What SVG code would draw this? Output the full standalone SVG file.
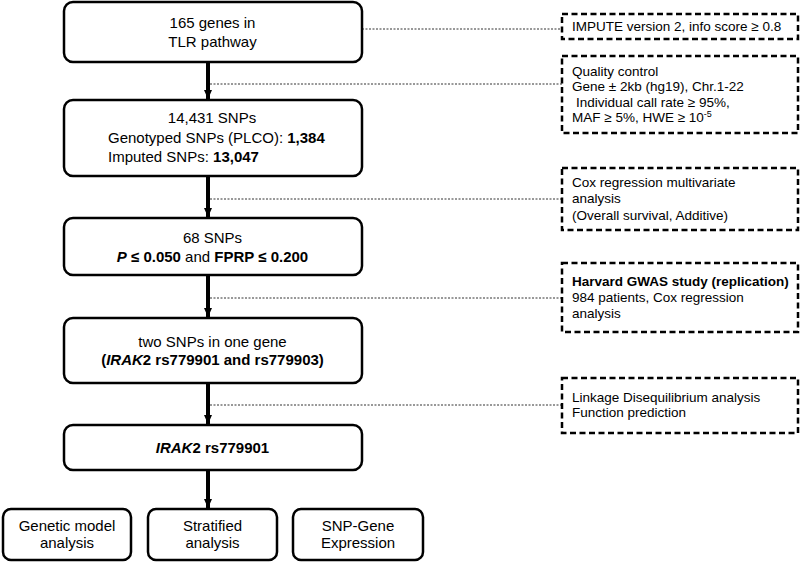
<svg xmlns="http://www.w3.org/2000/svg" width="800" height="562" viewBox="0 0 800 562">
<defs>
<marker id="ah" markerUnits="userSpaceOnUse" markerWidth="10" markerHeight="8" refX="9" refY="4" orient="auto">
<path d="M0,0 L9,4 L0,8 z" fill="#000"/>
</marker>
<style>
.box{fill:#fff;stroke:#000;stroke-width:2.5}
.note{fill:#fff;stroke:#000;stroke-width:2.5;stroke-dasharray:6 3.5}
.t{font-family:"Liberation Sans",Arial,sans-serif;font-size:15px;fill:#000}
.n{font-family:"Liberation Sans",Arial,sans-serif;font-size:13.5px;fill:#000}
.c{text-anchor:middle}
.b{font-weight:bold}
.i{font-style:italic}
.arrow{stroke:#000;stroke-width:4;fill:none}
.dot{stroke:#333;stroke-width:1;stroke-dasharray:2 1.5;fill:none}
</style>
</defs>
<rect width="800" height="562" fill="#fff"/>
<g id="connectors">
<line class="arrow" x1="208" y1="62" x2="208" y2="99" marker-end="url(#ah)"/>
<line class="arrow" x1="208" y1="176" x2="208" y2="217" marker-end="url(#ah)"/>
<line class="arrow" x1="208" y1="275" x2="208" y2="317" marker-end="url(#ah)"/>
<line class="arrow" x1="208" y1="383" x2="208" y2="424" marker-end="url(#ah)"/>
<line class="arrow" x1="208" y1="470" x2="208" y2="508" marker-end="url(#ah)"/>
<line class="dot" x1="362" y1="29" x2="562" y2="29"/>
<line class="dot" x1="210" y1="84" x2="562" y2="84"/>
<line class="dot" x1="210" y1="199" x2="562" y2="199"/>
<line class="dot" x1="210" y1="298" x2="562" y2="298"/>
<line class="dot" x1="210" y1="405" x2="562" y2="405"/>
</g>
<g id="n1">
<rect class="box" x="64" y="2" width="298" height="60" rx="9"/>
<text class="t c" x="212.5" y="28">165 genes in</text>
<text class="t c" x="212.5" y="47">TLR pathway</text>
</g>
<g id="n2">
<rect class="box" x="64" y="100" width="298" height="76" rx="9"/>
<text class="t c" x="212" y="123">14,431 SNPs</text>
<text class="t" x="108" y="143">Genotyped SNPs (PLCO): <tspan class="b">1,384</tspan></text>
<text class="t" x="108" y="162">Imputed SNPs: <tspan class="b">13,047</tspan></text>
</g>
<g id="n3">
<rect class="box" x="64" y="218" width="298" height="57" rx="9"/>
<text class="t c" x="212.5" y="243">68 SNPs</text>
<text class="t c" x="212.5" y="262"><tspan class="b i">P</tspan><tspan class="b"> ≤ 0.050</tspan> and <tspan class="b">FPRP ≤ 0.200</tspan></text>
</g>
<g id="n4">
<rect class="box" x="64" y="318" width="298" height="65" rx="9"/>
<text class="t c" x="212.5" y="347">two SNPs in one gene</text>
<text class="t c b" x="212.5" y="365">(<tspan class="i">IRAK</tspan>2 rs779901 and rs779903)</text>
</g>
<g id="n5">
<rect class="box" x="64" y="425" width="298" height="45" rx="9"/>
<text class="t c b" x="212.5" y="453"><tspan class="i">IRAK</tspan>2 rs779901</text>
</g>
<g id="n6">
<rect class="box" x="3" y="509" width="128" height="51" rx="8"/>
<text class="t c" x="67" y="531">Genetic model</text>
<text class="t c" x="67" y="548">analysis</text>
</g>
<g id="n7">
<rect class="box" x="148" y="509" width="129" height="51" rx="8"/>
<text class="t c" x="212.5" y="531">Stratified</text>
<text class="t c" x="212.5" y="548">analysis</text>
</g>
<g id="n8">
<rect class="box" x="293" y="509" width="130" height="51" rx="8"/>
<text class="t c" x="358" y="531">SNP-Gene</text>
<text class="t c" x="358" y="548">Expression</text>
</g>
<g id="r1">
<rect class="note" x="562" y="14" width="236" height="25"/>
<text class="n" x="572" y="31">IMPUTE version 2, info score ≥ 0.8</text>
</g>
<g id="r2">
<rect class="note" x="562" y="56" width="236" height="77"/>
<text class="n" x="572" y="76">Quality control</text>
<text class="n" x="572" y="91">Gene ± 2kb (hg19), Chr.1-22</text>
<text class="n" x="576" y="107">Individual call rate ≥ 95%,</text>
<text class="n" x="572" y="122">MAF ≥ 5%, HWE ≥ 10<tspan font-size="9" dy="-5">-5</tspan></text>
</g>
<g id="r3">
<rect class="note" x="562" y="168" width="236" height="62"/>
<text class="n" x="572" y="187">Cox regression multivariate</text>
<text class="n" x="572" y="203">analysis</text>
<text class="n" x="572" y="220">(Overall survival, Additive)</text>
</g>
<g id="r4">
<rect class="note" x="562" y="263" width="236" height="69"/>
<text class="n b" x="572" y="286">Harvard GWAS study (replication)</text>
<text class="n" x="572" y="302">984 patients, Cox regression</text>
<text class="n" x="572" y="318">analysis</text>
</g>
<g id="r5">
<rect class="note" x="562" y="378" width="236" height="55"/>
<text class="n" x="572" y="402">Linkage Disequilibrium analysis</text>
<text class="n" x="572" y="417">Function prediction</text>
</g>
</svg>
